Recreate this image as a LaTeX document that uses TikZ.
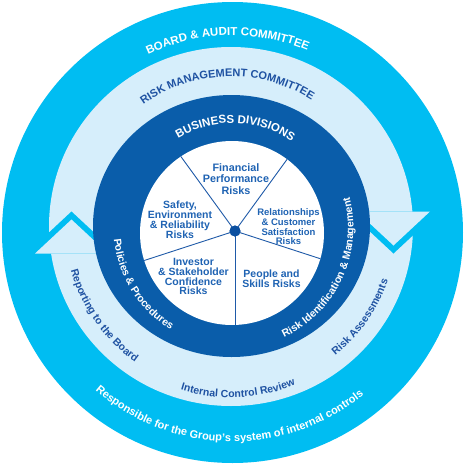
\documentclass[tikz,border=0pt]{standalone}
\usepackage{fontspec}
\setmainfont{Liberation Sans}
\usetikzlibrary{decorations.text}
\definecolor{cyanring}{HTML}{00BDF2}
\definecolor{paleband}{HTML}{D6EEFB}
\definecolor{darkring}{HTML}{0A5DAA}
\definecolor{bandtext}{HTML}{1F52A2}
\definecolor{innertext}{HTML}{1F63B3}
\definecolor{spokecol}{HTML}{1F5AA8}
\definecolor{hubcol}{HTML}{0B4FA0}
\newcommand\fsz[2]{\fontsize{#1}{#2}\selectfont}
\begin{document}
\begin{tikzpicture}[x=1pt,y=1pt,
  ringtext/.style={decorate, decoration={text along path, text align=center, text={#1}}},
  risklabel/.style={align=center, text=innertext, font=\bfseries\fsz{10.5}{9.8}, inner sep=0pt},
  spokeline/.style={draw=spokecol, line width=0.9pt},
]
\useasboundingbox (0,0) rectangle (472,-472);
\coordinate (CO) at (232.5,-232.5);
\coordinate (CP) at (231,-226.5);
\coordinate (CD) at (231.5,-226);
\coordinate (CW) at (232,-233);
\coordinate (CT) at (232.5,-228);

% rings
\fill[cyanring] (CO) circle (230.5);
\fill[paleband] (CP) ellipse [x radius=182, y radius=179.5];
% left arrow (pointing up)
\fill[cyanring] (71.5,-211.5) -- (26.4,-253.5) -- (116.6,-253.5) -- cycle;
\fill[paleband] (71.5,-219.5) -- (35,-253.5) -- (108,-253.5) -- cycle;
% right arrow (pointing down)
\fill[cyanring] (393.5,-253.5) -- (348.4,-211.5) -- (438.6,-211.5) -- cycle;
\fill[paleband] (393.5,-245.5) -- (357,-211.5) -- (430,-211.5) -- cycle;
\fill[darkring] (CD) ellipse [x radius=138.5, y radius=131];
\fill[white] (CW) circle (92);

% spokes
\node[circle, fill=hubcol, minimum size=11pt, inner sep=0pt] (hub) at (235,-231) {};
\begin{scope}
\clip (CW) circle (92);
\foreach \a in {54,126,198,270,342} \draw[spokeline] (hub.center) -- ++(\a:130);
\end{scope}
\node[circle, fill=hubcol, minimum size=11pt, inner sep=0pt] (hubtop) at (hub.center) {};

% ring texts
\path[ringtext={|\color{white}\bfseries\fsz{11.5}{12}|BOARD {\&} AUDIT COMMITTEE}]
  (CO) ++(151.5:197) arc[start angle=151.5,end angle=31.5,radius=197];
\path[ringtext={|\color{bandtext}\bfseries\fsz{11}{12}|RISK MANAGEMENT COMMITTEE}]
  (CP) ++(151.6:150) arc[start angle=151.6,end angle=31.6,radius=150];
\path[ringtext={|\color{white}\bfseries\fsz{11.5}{12}|BUSINESS DIVISIONS}]
  (CT) ++(148.4:105) arc[start angle=148.4,end angle=28.4,radius=105];
\path[ringtext={|\color{white}\bfseries\fsz{10.5}{12}|Policies {\&} Procedures}]
  (CT) ++(180:119) arc[start angle=180,end angle=244,radius=119];
\path[ringtext={|\color{white}\bfseries\fsz{10.5}{12}|Risk Identification {\&} Management}]
  (CT) ++(290:121) arc[start angle=290,end angle=380,radius=121];
\path[ringtext={|\color{bandtext}\bfseries\fsz{10.5}{12}|Reporting to the Board}]
  (CP) ++(190:166) arc[start angle=190,end angle=240,radius=166];
\path[ringtext={|\color{bandtext}\bfseries\fsz{10.5}{12}|Risk Assessments}]
  (CP) ++(300:166) arc[start angle=300,end angle=350,radius=166];
\path[ringtext={|\color{bandtext}\bfseries\fsz{10.5}{12}|Internal Control Review}]
  (CP) ++(245:171) arc[start angle=245,end angle=300,radius=171];
\path[ringtext={|\color{white}\bfseries\fsz{11}{12}|Responsible for the Group's system of internal controls}]
  (CO) ++(220:209) arc[start angle=220,end angle=318,radius=209];

% risk labels
\node[risklabel, font=\bfseries\fsz{10.8}{11.2}] (fin) at (236,-179) {Financial\\Performance\\Risks};
\node[risklabel] (saf) at (180,-219.7) {Safety,\\Environment\\\& Reliability\\Risks};
\node[risklabel, font=\bfseries\fsz{9.5}{9.7}] (rel) at (288.5,-227) {Relationships\\\& Customer\\Satisfaction\\Risks};
\node[risklabel] (inv) at (193.5,-276.7) {Investor\\\& Stakeholder\\Confidence\\Risks};
\node[risklabel] (ppl) at (271.5,-279) {People and\\Skills Risks};
\end{tikzpicture}
\end{document}
